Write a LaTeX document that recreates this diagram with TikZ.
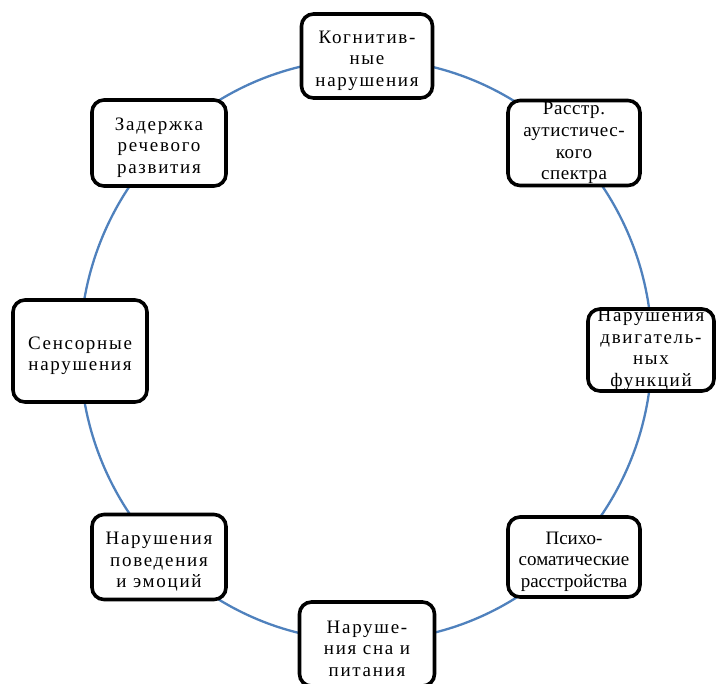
\documentclass[tikz,border=0pt]{standalone}
\usepackage{fontspec}
\setmainfont{Liberation Serif}
\definecolor{ringblue}{RGB}{79,129,189}
\newcommand\boxfont[1]{\fontsize{19}{21.6}\selectfont\addfontfeatures{LetterSpace=#1}}
\newcommand\tp{\rule{0pt}{22pt}}
\begin{document}
\begin{tikzpicture}[x=1pt,y=1pt,
  box/.style={draw,fill=white,line width=3.6pt,rounded corners=12pt,align=center,inner sep=0pt,
    minimum width=131,minimum height=84,font=\boxfont{9}}]

\useasboundingbox[fill=white] (0,0) rectangle (717,-683);

%ring
\draw[ringblue,line width=2.3pt] (366,-350) ellipse [x radius=286, y radius=291];

\node[box] (cog) at (367,-56) {\tp Когнитив-\\ные\\нарушения};
\node[box,minimum width=132,minimum height=85,font=\boxfont{3}] (ras) at (574,-143) {Расстр.\\аутистичес-\\кого\\спектра};
\node[box,minimum width=126,minimum height=82] (mot) at (651,-350) {Нарушения\\двигатель-\\ных\\функций};
\node[box,minimum width=132,minimum height=80,font=\boxfont{0}] (psy) at (574,-557) {\tp Психо-\\соматические\\расстройства};
\node[box,minimum width=135] (sle) at (367,-644) {\tp Наруше-\\ния сна и\\питания};
\node[box,minimum width=134,minimum height=85] (beh) at (159,-557) {\tp Нарушения\\поведения\\и эмоций};
\node[box,minimum width=134,minimum height=102] (sen) at (80,-351) {\tp Сенсорные\\нарушения};
\node[box,minimum width=134,minimum height=86] (spe) at (159,-143) {\tp Задержка\\речевого\\развития};

\end{tikzpicture}
\end{document}
